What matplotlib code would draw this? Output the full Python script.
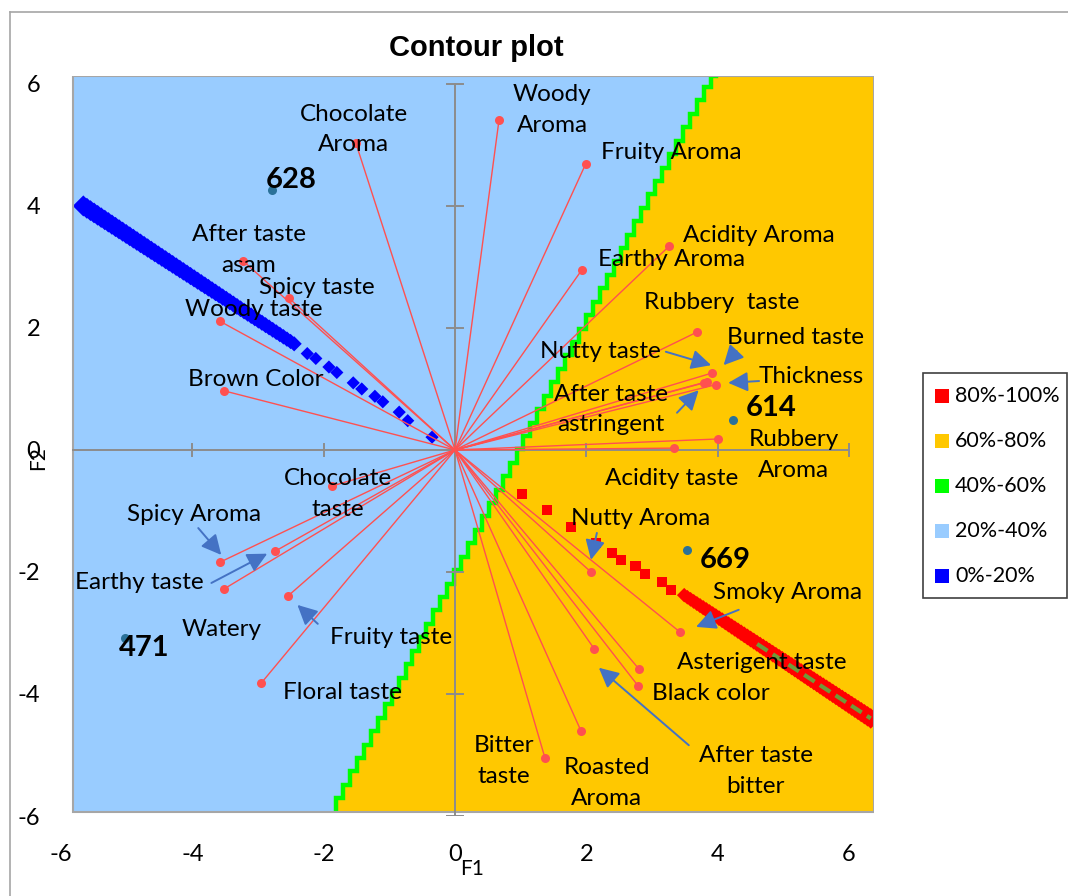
import numpy as np
import matplotlib
matplotlib.use("Agg")
import matplotlib.pyplot as plt
from matplotlib.patches import Rectangle, Polygon

plt.rcParams['font.family'] = ['Lato', 'DejaVu Sans']
plt.rcParams['axes.unicode_minus'] = False

# ---------------- data ----------------
var_names = ["Woody Aroma", "Chocolate Aroma", "Fruity Aroma", "Acidity Aroma", "Earthy Aroma",
             "Rubbery  taste", "Burned taste", "Nutty taste", "Thickness", "After taste astringent",
             "Rubbery Aroma", "Acidity taste", "Nutty Aroma", "Smoky Aroma", "Asterigent taste",
             "Black color", "After taste bitter", "Roasted Aroma", "Bitter taste", "Floral taste",
             "Fruity taste", "Watery", "Earthy taste", "Spicy Aroma", "Chocolate taste",
             "Brown Color", "Woody taste", "Spicy taste", "After taste asam"]
var_f1 = [0.67, -1.51, 1.99, 3.26, 1.93,
          3.68, 3.91, 3.84, 3.97, 3.79,
          4.00, 3.33, 2.07, 3.42, 2.80,
          2.79, 2.12, 1.92, 1.37, -2.95,
          -2.54, -3.52, -2.74, -3.58, -1.87,
          -3.52, -3.58, -2.53, -3.23]
var_f2 = [5.41, 5.03, 4.69, 3.34, 2.95,
          1.93, 1.26, 1.12, 1.07, 1.10,
          0.18, 0.03, -2.00, -2.98, -3.59,
          -3.87, -3.26, -4.61, -5.05, -3.82,
          -2.39, -2.28, -1.66, -1.84, -0.59,
          0.97, 2.11, 2.49, 3.10]

obs_names = ["628", "614", "669", "471"]
obs_f1 = [-2.79, 4.23, 3.53, -5.02]
obs_f2 = [4.26, 0.49, -1.64, -3.08]

legend_labels = ["80%-100%", "60%-80%", "40%-60%", "20%-40%", "0%-20%"]
legend_colors = ["#FF0000", "#FFC800", "#00FF00", "#99CCFF", "#0000FF"]

x_ticks = [-6, -4, -2, 0, 2, 4, 6]
y_ticks = [-6, -4, -2, 0, 2, 4, 6]

# contour geometry
boundary_bottom = (-1.79, -5.93)   # 40%-60% boundary (bottom end)
boundary_top = (4.00, 6.13)        # 40%-60% boundary (top end)
blue_band = [(-5.66, 4.00), (-2.45, 1.74)]
blue_dots_f1 = [-2.25, -2.12, -1.92, -1.80, -1.55, -1.42, -1.22, -1.10, -0.85, -0.72, -0.35]
blue_dots_f2 = [1.58, 1.50, 1.36, 1.27, 1.10, 1.00, 0.88, 0.79, 0.62, 0.48, 0.21]
red_band = [(3.49, -2.38), (6.33, -4.40)]
red_dots_f1 = [1.02, 1.40, 1.77, 2.15, 2.39, 2.53, 2.75, 2.89, 3.15, 3.29]
red_dots_f2 = [-0.72, -0.98, -1.26, -1.52, -1.69, -1.80, -1.90, -2.03, -2.16, -2.30]
olive_band = [(4.60, -3.18), (6.33, -4.40)]

plot_area = (-5.81, -5.93, 6.38, 6.13)

# ---------------- label placement ----------------
labels = [
    ("Woody\nAroma", 1.48, 5.57), ("Chocolate\nAroma", -1.54, 5.25), ("Fruity Aroma", 3.29, 4.87),
    ("Acidity Aroma", 4.63, 3.52), ("Earthy Aroma", 3.29, 3.13), ("Rubbery  taste", 4.06, 2.41),
    ("Burned taste", 5.18, 1.84), ("Nutty taste", 2.22, 1.61), ("Thickness", 5.42, 1.20),
    ("After taste\nastringent", 2.37, 0.66), ("Rubbery\nAroma", 5.16, -0.08),
    ("Acidity taste", 3.30, -0.46), ("Nutty Aroma", 2.83, -1.13), ("Smoky Aroma", 5.07, -2.34),
    ("Asterigent taste", 4.67, -3.48), ("Black color", 3.90, -4.00),
    ("After taste\nbitter", 4.58, -5.26), ("Roasted\nAroma", 2.31, -5.46), ("Bitter\ntaste", 0.75, -5.10),
    ("Floral taste", -1.72, -3.98), ("Fruity taste", -0.97, -3.08), ("Watery", -3.56, -2.95),
    ("Earthy taste", -4.81, -2.18), ("Spicy Aroma", -3.97, -1.05), ("Chocolate\ntaste", -1.78, -0.72),
    ("Brown Color", -3.04, 1.15), ("Woody taste", -3.06, 2.31), ("Spicy taste", -2.10, 2.67),
    ("After taste\nasam", -3.14, 3.28),
]
obs_label_pos = [(-2.50, 4.43), (4.82, 0.69), (4.12, -1.80), (-4.73, -3.25)]
arrows = [
    ((3.21, 1.61), (3.90, 1.39)), ((4.29, 1.62), (4.09, 1.39)), ((4.63, 1.13), (4.16, 1.10)),
    ((3.38, 0.61), (3.71, 0.98)), ((2.16, -1.36), (2.07, -1.80)), ((-3.91, -1.28), (-3.56, -1.72)),
    ((-3.71, -2.18), (-2.86, -1.70)), ((-2.09, -2.85), (-2.40, -2.54)), ((4.32, -2.62), (3.67, -2.90)),
    ((3.56, -4.84), (2.19, -3.57)),
]

# ---------------- figure ----------------
W, H = 1068, 896
fig = plt.figure(figsize=(W / 100, H / 100), dpi=100)
ax = fig.add_axes([61 / W, 80 / H, 813 / W, 740 / H])
ax.set_xlim(-6, 6.38)
ax.set_ylim(-6, 6.13)
for s in ax.spines.values():
    s.set_visible(False)
ax.set_xticks(x_ticks)
ax.set_yticks(y_ticks)
ax.tick_params(length=0, labelsize=17)
ax.tick_params(axis='y', pad=15)
ax.tick_params(axis='x', pad=20)
ax.patch.set_visible(False)

x0, y0, x1, y1 = plot_area
area_rect = Rectangle((x0, y0), x1 - x0, y1 - y0, facecolor=legend_colors[3], edgecolor='none', zorder=0)
ax.add_patch(area_rect)

# staircase boundary
(bx0, by0), (bx1, by1) = boundary_bottom, boundary_top
ys = np.append(np.arange(by0, by1, 0.22), by1)
xs = bx0 + (ys - by0) * (bx1 - bx0) / (by1 - by0)
stair = []
for i in range(len(ys) - 1):
    stair.append((xs[i], ys[i]))
    stair.append((xs[i], ys[i + 1]))
stair.append((xs[-1], ys[-1]))
stair = np.array(stair)
orange_poly = np.vstack([stair, [[x1, y1], [x1, y0]]])
ax.add_patch(Polygon(orange_poly, closed=True, facecolor=legend_colors[1], edgecolor='none', zorder=0.5))
green_line, = ax.plot(stair[:, 0] - 0.02, stair[:, 1], color=legend_colors[2], lw=3.2, zorder=0.8,
                      solid_joinstyle='miter')
green_line.set_clip_path(area_rect)

# blue band (0%-20%)
(b0x, b0y), (b1x, b1y) = blue_band
n = 60
bx = np.linspace(b0x, b1x, n)
by = np.linspace(b0y, b1y, n)
bsize = np.linspace(115, 60, n)
sc = ax.scatter(bx, by, s=bsize, marker='D', color=legend_colors[4], edgecolors='none', zorder=1)
sc.set_clip_path(area_rect)
ax.scatter(blue_dots_f1, blue_dots_f2, s=45, marker='D', color=legend_colors[4], edgecolors='none', zorder=1)

# red band (80%-100%)
(r0x, r0y), (r1x, r1y) = red_band
rx = np.linspace(r0x, r1x, 60)
ry = np.linspace(r0y, r1y, 60)
rsize = np.linspace(55, 110, 60)
sc2 = ax.scatter(rx, ry, s=rsize, marker='D', color=legend_colors[0], edgecolors='none', zorder=1)
sc2.set_clip_path(area_rect)
ax.scatter(red_dots_f1, red_dots_f2, s=55, marker='s', color=legend_colors[0], edgecolors='none', zorder=1)
(o0x, o0y), (o1x, o1y) = olive_band
ol, = ax.plot([o0x, o1x], [o0y, o1y], color='#6E9A3A', lw=3, dashes=(3, 1.5), zorder=1.2)
ol.set_clip_path(area_rect)

# plot area border
ax.add_patch(Rectangle((x0, y0), x1 - x0, y1 - y0, fill=False, edgecolor='#A6A6A6', lw=1.5, zorder=1.5))

# gray axes at origin with tick marks
gray = '#8C8C8C'
ax.plot([x0, 6.0], [0, 0], color=gray, lw=1.4, zorder=1.6)
ax.plot([0, 0], [-6.0, 6.0], color=gray, lw=1.4, zorder=1.6)
for t in y_ticks:
    ax.plot([-0.12, 0.12], [t, t], color=gray, lw=1.4, zorder=1.6)
for t in x_ticks:
    if t >= x0:
        ax.plot([t, t], [-0.1, 0.1], color=gray, lw=1.4, zorder=1.6)

# vectors
vec_color = '#FF5050'
for vx, vy in zip(var_f1, var_f2):
    ax.plot([0, vx], [0, vy], color=vec_color, lw=1.0, zorder=3)
ax.plot(var_f1, var_f2, 'o', ms=6.5, color=vec_color, mec='none', zorder=3.2)

# observations
ax.plot(obs_f1, obs_f2, 'o', ms=6.5, color='#2A7199', mec='none', zorder=3.2)
for name, (lx, ly) in zip(obs_names, obs_label_pos):
    ax.text(lx, ly, name, fontsize=21, fontweight='bold', ha='center', va='center', zorder=5)

# variable labels
for s, lx, ly in labels:
    ax.text(lx, ly, s, fontsize=17.5, ha='center', va='center', linespacing=1.55, zorder=5)

# arrows
for (tx, ty), (hx, hy) in arrows:
    ax.annotate('', xy=(hx, hy), xytext=(tx, ty),
                arrowprops=dict(arrowstyle='-|>', mutation_scale=30, lw=1.4,
                                color='#4472C4', shrinkA=0, shrinkB=0), zorder=4)

# axis titles
fig.text(472 / W, 1 - 869 / H, "F1", fontsize=15, ha='center', va='center')
fig.text(38 / W, 1 - 458 / H, "F2", fontsize=15, ha='center', va='center', rotation=90)

# title
fig.text(476 / W, 1 - 48 / H, "Contour plot", fontsize=21, fontweight='bold',
         family='Liberation Sans', ha='center', va='center')

# legend box
fig.add_artist(Rectangle((923 / W, 1 - 598 / H), 144 / W, 225 / H, transform=fig.transFigure,
                         fill=False, edgecolor='#404040', lw=1.2))
leg_y = [396, 441, 486, 531, 576]
for lab, col, py in zip(legend_labels, legend_colors, leg_y):
    fig.add_artist(Rectangle(((942 - 7) / W, 1 - (py + 7) / H), 14 / W, 14 / H,
                             transform=fig.transFigure, facecolor=col, edgecolor='none'))
    fig.text(955 / W, 1 - py / H, lab, fontsize=15.5, ha='left', va='center')

# chart border
fig.add_artist(plt.Line2D([10 / W, 10 / W], [0, 1 - 12 / H], transform=fig.transFigure, color='#A6A6A6', lw=1.2))
fig.add_artist(plt.Line2D([10 / W, 1], [1 - 12 / H, 1 - 12 / H], transform=fig.transFigure, color='#A6A6A6', lw=1.2))

fig.savefig("out.png", dpi=100)
